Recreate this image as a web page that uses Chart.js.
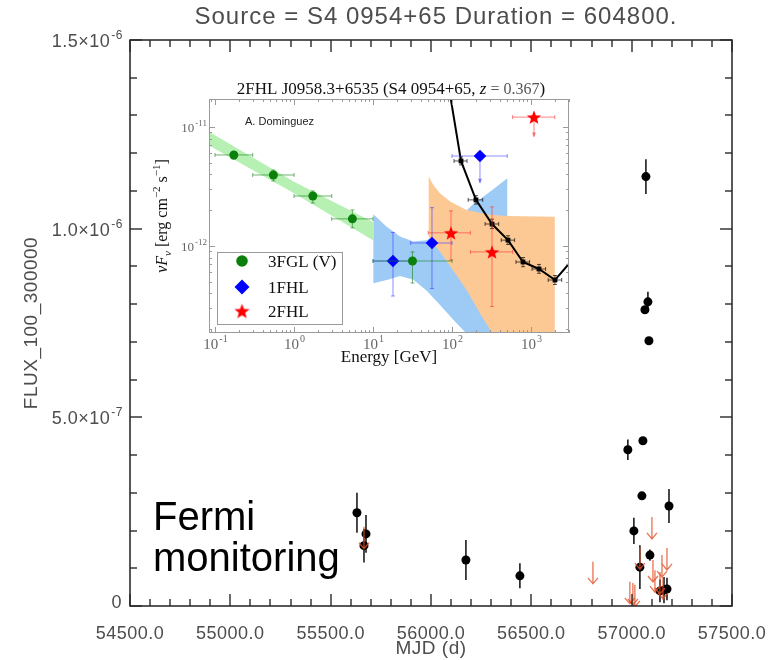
<!DOCTYPE html>
<html>
<head>
<meta charset="utf-8">
<script src="https://cdn.jsdelivr.net/npm/chart.js@4.4.2/dist/chart.umd.min.js"></script>
<style>
  body { margin: 0; background: #fff; }
  #wrap { position: relative; width: 769px; height: 660px; }
  #lc { position: absolute; left: 0; top: 0; }
  #sed { position: absolute; left: 150px; top: 70px; }
</style>
</head>
<body>
<div id="wrap">
  <canvas id="lc" width="769" height="660"></canvas>
  <canvas id="sed" width="430" height="305"></canvas>
</div>
<script>
// ---- light curve (main panel) ----
const mjd     = [55631, 55676, 55666, 56174, 56443, 56981, 57011, 57041, 57051, 57056, 57066, 57071, 57081, 57086, 57091, 57141, 57161, 57176, 57186];
const flux    = [2.47e-7, 1.91e-7, 1.60e-7, 1.22e-7, 0.80e-7, 4.14e-7, 1.99e-7, 1.03e-7, 2.92e-7, 4.38e-7, 7.85e-7, 11.38e-7, 8.06e-7, 7.03e-7, 1.35e-7, 0.40e-7, 0.42e-7, 0.45e-7, 2.65e-7];
const fluxErr = [0.53e-7, 0.50e-7, 0.45e-7, 0.53e-7, 0.33e-7, 0.27e-7, 0.35e-7, 0.58e-7, 0.08e-7, 0.08e-7, 0.08e-7, 0.46e-7, 0.27e-7, 0.08e-7, 0.15e-7, 0.30e-7, 0.35e-7, 0.30e-7, 0.45e-7];
const ulMjd   = [55666, 56807, 56991, 57006, 57016, 57041, 57101, 57106, 57116, 57141, 57151, 57156, 57176];
const ulFlux  = [2.10e-7, 1.17e-7, 0.64e-7, 0.61e-7, 0.56e-7, 1.56e-7, 2.36e-7, 1.22e-7, 0.95e-7, 0.90e-7, 1.35e-7, 0.77e-7, 1.54e-7];
const mjdTicks = [54500, 55000, 55500, 56000, 56500, 57000, 57500];
const mjdTickLabels = ['54500.0', '55000.0', '55500.0', '56000.0', '56500.0', '57000.0', '57500.0'];
const fluxTicks = [0, 5e-7, 1e-6, 1.5e-6];
const fluxTickLabels = [['0', ''], ['5.0×10', '-7'], ['1.0×10', '-6'], ['1.5×10', '-6']];

// ---- SED inset ----
const fglE   = [0.173, 0.548, 1.73, 5.48, 31.6];
const fglF   = [5.82e-12, 3.95e-12, 2.63e-12, 1.69e-12, 7.48e-13];
const fglElo = [0.1, 0.3, 1, 3, 10];
const fglEhi = [0.3, 1, 3, 10, 100];
const fglFlo = [5.37e-12, 3.52e-12, 2.30e-12, 1.42e-12, 4.89e-13];
const fglFhi = [6.16e-12, 4.35e-12, 2.90e-12, 2.01e-12, 8.92e-13];

const fhl1E   = [17.9, 55.8, 226];
const fhl1F   = [7.48e-13, 1.06e-12, 5.70e-12];
const fhl1Elo = [10, 30, 100];
const fhl1Ehi = [30, 100, 500];
const fhl1Flo = [3.8e-13, 4.4e-13, 3.4e-12];
const fhl1Fhi = [1.3e-12, 2.1e-12, 5.70e-12];
const fhl1UL  = [false, false, true];

const fhl2E   = [97, 321, 1091];
const fhl2F   = [1.29e-12, 8.92e-13, 1.21e-11];
const fhl2Elo = [50, 171, 585];
const fhl2Ehi = [171, 585, 2000];
const fhl2Flo = [7.6e-13, 3.1e-13, 8.3e-12];
const fhl2Fhi = [1.97e-12, 2.13e-12, 1.21e-11];
const fhl2UL  = [false, false, true];

const vheE   = [80, 130, 201, 321, 511, 792, 1262, 2013, 4170];
const vheF   = [3.66e-11, 5.18e-12, 2.44e-12, 1.53e-12, 1.12e-12, 7.34e-13, 6.41e-13, 5.18e-13, 9.08e-13];
const vheElo = [80, 106, 160, 262, 420, 645, 1030, 1650, 3400];
const vheEhi = [80, 155, 245, 390, 620, 960, 1530, 2450, 5000];
const vheFlo = [3.66e-11, 4.8e-12, 2.25e-12, 1.40e-12, 1.03e-12, 6.7e-13, 5.9e-13, 4.75e-13, 8.3e-13];
const vheFhi = [3.66e-11, 5.6e-12, 2.65e-12, 1.68e-12, 1.22e-12, 8.0e-13, 7.0e-13, 5.65e-13, 9.9e-13];

const fglBandE  = [0.084, 1, 10];
const fglBandHi = [9.1e-12, 3.46e-12, 1.59e-12];
const fglBandLo = [7.0e-12, 2.77e-12, 1.12e-12];

const fhl1BandE  = [10.1, 14.9, 22, 32.4, 47.8, 70.5, 104, 126, 186, 249, 333, 501];
const fhl1BandHi = [1.85e-12, 1.45e-12, 1.20e-12, 1.09e-12, 1.12e-12, 1.36e-12, 1.62e-12, 1.76e-12, 2.25e-12, 2.59e-12, 3.0e-12, 3.71e-12];
const fhl1BandLo = [4.86e-13, 5.18e-13, 5.6e-13, 5.2e-13, 4.2e-13, 3.2e-13, 2.4e-13, 2.1e-13, 1.6e-13, 1.3e-13, 1.0e-13, 0.7e-13];

const fhl2BandE  = [50.7, 58, 70.5, 94.5, 153, 226, 275, 333, 492, 2000];
const fhl2BandHi = [3.83e-12, 3.26e-12, 2.77e-12, 2.36e-12, 2.01e-12, 1.9e-12, 1.85e-12, 1.82e-12, 1.79e-12, 1.76e-12];
const fhl2BandLo = [1.2e-12, 1.05e-12, 8.95e-13, 6.8e-13, 4.27e-13, 2.72e-13, 2.2e-13, 1.8e-13, 1.2e-13, 0.2e-13];

const energyTicks = [0.1, 1, 10, 100, 1000];
const energyTickExp = ['-1', '0', '1', '2', '3'];
const sedTicks = [1e-11, 1e-12];
const sedTickExp = ['-11', '-12'];

const SANS = '"Liberation Sans", Arial, sans-serif';
const SERIF = '"Liberation Serif", "DejaVu Serif", serif';

const pts = (xs, ys) => xs.map((v, i) => ({ x: v, y: ys[i] }));
const band = (xs, hi, lo) => pts(xs, hi).concat(pts(xs, lo).reverse());

function drawPow(ctx, x, y, base, exp, size, family, align) {
  ctx.font = `${size}px ${family}`;
  const wb = ctx.measureText(base).width;
  const es = Math.round(size * 0.68);
  ctx.font = `${es}px ${family}`;
  const we = exp ? ctx.measureText(exp).width : 0;
  let x0 = x;
  if (align === 'right') x0 = x - wb - we;
  if (align === 'center') x0 = x - (wb + we) / 2;
  ctx.textAlign = 'left';
  ctx.font = `${size}px ${family}`;
  ctx.fillText(base, x0, y);
  if (exp) {
    ctx.font = `${es}px ${family}`;
    ctx.fillText(exp, x0 + wb + 1, y - size * 0.45);
  }
}

const lcDecor = {
  id: 'lcDecor',
  beforeDatasetDraw(chart, args) {
    if (args.index !== 0) return;
    const { ctx, chartArea: a, scales: { x, y } } = chart;
    ctx.save();
    ctx.beginPath();
    ctx.rect(a.left, a.top, a.right - a.left, a.bottom - a.top);
    ctx.clip();
    ctx.strokeStyle = '#1c1c1c';
    ctx.lineWidth = 1.6;
    ctx.beginPath();
    mjd.forEach((m, i) => {
      const px = x.getPixelForValue(m);
      ctx.moveTo(px, y.getPixelForValue(flux[i] - fluxErr[i]));
      ctx.lineTo(px, y.getPixelForValue(flux[i] + fluxErr[i]));
    });
    ctx.stroke();
    ctx.restore();
  },
  afterDatasetsDraw(chart) {
    const { ctx, chartArea: a, scales: { x, y } } = chart;
    ctx.save();
    ctx.beginPath();
    ctx.rect(a.left, a.top, a.right - a.left, a.bottom - a.top);
    ctx.clip();
    ctx.strokeStyle = 'rgba(228,80,36,0.8)';
    ctx.lineWidth = 1.3;
    ulMjd.forEach((m, i) => {
      const px = x.getPixelForValue(m);
      const top = y.getPixelForValue(ulFlux[i]);
      const tip = top + 22;
      ctx.beginPath();
      ctx.moveTo(px, top);
      ctx.lineTo(px, tip);
      ctx.moveTo(px - 5, tip - 6);
      ctx.lineTo(px, tip);
      ctx.lineTo(px + 5, tip - 6);
      ctx.stroke();
    });
    ctx.restore();
  },
  afterDraw(chart) {
    const { ctx, chartArea: a, scales: { x, y } } = chart;
    ctx.save();
    ctx.strokeStyle = '#222';
    ctx.lineWidth = 1.5;
    ctx.strokeRect(a.left, a.top, a.right - a.left, a.bottom - a.top);
    // tick marks, inward on all four sides
    ctx.fillStyle = '#2a2a2a';
    for (let m = mjdTicks[0]; m <= mjdTicks[mjdTicks.length - 1]; m += 100) {
      const px = Math.round(x.getPixelForValue(m));
      const len = (m - mjdTicks[0]) % 500 === 0 ? 12 : 7;
      ctx.fillRect(px - 0.7, a.bottom - len, 1.4, len);
      ctx.fillRect(px - 0.7, a.top, 1.4, len);
    }
    for (let k = 0; k <= 15; k++) {
      const py = Math.round(y.getPixelForValue(k * 1e-7));
      const len = k % 5 === 0 ? 12 : 7;
      ctx.fillRect(a.left, py - 0.7, len, 1.4);
      ctx.fillRect(a.right - len, py - 0.7, len, 1.4);
    }

    ctx.fillStyle = '#4d4d4d';
    ctx.textBaseline = 'alphabetic';
    ctx.letterSpacing = '0.5px';
    ctx.font = `18px ${SANS}`;
    ctx.textAlign = 'center';
    mjdTicks.forEach((m, i) => ctx.fillText(mjdTickLabels[i], x.getPixelForValue(m), 639));
    fluxTicks.forEach((v, i) => {
      const [b, e] = fluxTickLabels[i];
      drawPow(ctx, 122, y.getPixelForValue(v) + (v === 0 ? 2 : 7), b, e, 18, SANS, 'right');
    });
    ctx.font = `19px ${SANS}`;
    ctx.textAlign = 'center';
    ctx.fillText('MJD (d)', (a.left + a.right) / 2, 654);
    ctx.save();
    ctx.translate(37, (a.top + a.bottom) / 2);
    ctx.rotate(-Math.PI / 2);
    ctx.fillText('FLUX_100_300000', 0, 0);
    ctx.restore();
    ctx.letterSpacing = '1px';
    ctx.font = `24px ${SANS}`;
    ctx.textAlign = 'center';
    ctx.fillText('Source = S4 0954+65 Duration = 604800.', 436, 24);
    ctx.letterSpacing = '0px';

    ctx.fillStyle = '#000';
    ctx.textAlign = 'left';
    ctx.font = `40px ${SANS}`;
    ctx.fillText('Fermi', 153, 530);
    ctx.fillText('monitoring', 153, 571);
    ctx.restore();
  }
};

new Chart(document.getElementById('lc'), {
  type: 'scatter',
  data: {
    datasets: [{
      data: pts(mjd, flux),
      pointRadius: 4.5,
      pointBackgroundColor: '#000',
      pointBorderWidth: 0
    }]
  },
  options: {
    responsive: false,
    animation: false,
    events: [],
    layout: { padding: { left: 130, right: 37, top: 40, bottom: 54 } },
    plugins: { legend: { display: false }, tooltip: { enabled: false } },
    scales: {
      x: { type: 'linear', min: 54500, max: 57500, display: false },
      y: { type: 'linear', min: 0, max: 1.5e-6, display: false }
    }
  },
  plugins: [lcDecor]
});

// ---- inset chart ----
function starImage(size, color) {
  const c = document.createElement('canvas');
  c.width = c.height = size;
  const g = c.getContext('2d');
  const R = size / 2 - 0.5, r = R * 0.42, cx = size / 2, cy = size / 2 + R * 0.1;
  g.beginPath();
  for (let i = 0; i < 10; i++) {
    const ang = -Math.PI / 2 + i * Math.PI / 5;
    const rr = i % 2 ? r : R;
    g.lineTo(cx + rr * Math.cos(ang), cy + rr * Math.sin(ang));
  }
  g.closePath();
  g.fillStyle = color;
  g.fill();
  return c;
}
const star = starImage(16, '#ff0000');
const starLegend = starImage(17, '#ff0000');

const errorSets = {
  0: { e: fglE, f: fglF, elo: fglElo, ehi: fglEhi, flo: fglFlo, fhi: fglFhi, color: 'rgba(20,130,20,0.6)' },
  1: { e: fhl1E, f: fhl1F, elo: fhl1Elo, ehi: fhl1Ehi, flo: fhl1Flo, fhi: fhl1Fhi, ul: fhl1UL, color: 'rgba(50,50,255,0.55)' },
  2: { e: fhl2E, f: fhl2F, elo: fhl2Elo, ehi: fhl2Ehi, flo: fhl2Flo, fhi: fhl2Fhi, ul: fhl2UL, color: 'rgba(255,50,50,0.6)' },
  3: { e: vheE, f: vheF, elo: vheElo, ehi: vheEhi, flo: vheFlo, fhi: vheFhi, color: 'rgba(0,0,0,0.65)' }
};

const sedDecor = {
  id: 'sedDecor',
  beforeDatasetDraw(chart, args) {
    const s = errorSets[args.index];
    if (!s) return;
    const { ctx, chartArea: a, scales: { x, y } } = chart;
    ctx.save();
    ctx.beginPath();
    ctx.rect(a.left, a.top, a.right - a.left, a.bottom - a.top);
    ctx.clip();
    ctx.strokeStyle = s.color;
    ctx.fillStyle = s.color;
    ctx.lineWidth = 1;
    s.e.forEach((e, i) => {
      const px = x.getPixelForValue(e), py = y.getPixelForValue(s.f[i]);
      const x0 = x.getPixelForValue(s.elo[i]), x1 = x.getPixelForValue(s.ehi[i]);
      const y0 = y.getPixelForValue(s.flo[i]), y1 = y.getPixelForValue(s.fhi[i]);
      ctx.beginPath();
      ctx.moveTo(x0, py); ctx.lineTo(x1, py);
      ctx.moveTo(x0, py - 2); ctx.lineTo(x0, py + 2);
      ctx.moveTo(x1, py - 2); ctx.lineTo(x1, py + 2);
      ctx.moveTo(px, y0); ctx.lineTo(px, y1);
      if (!(s.ul && s.ul[i])) {
        ctx.moveTo(px - 2, y0); ctx.lineTo(px + 2, y0);
        ctx.moveTo(px - 2, y1); ctx.lineTo(px + 2, y1);
      }
      ctx.stroke();
      if (s.ul && s.ul[i]) {
        ctx.beginPath();
        ctx.moveTo(px - 2, y0 - 4); ctx.lineTo(px + 2, y0 - 4); ctx.lineTo(px, y0 + 1);
        ctx.closePath();
        ctx.fill();
      }
    });
    ctx.restore();
  },
  afterDraw(chart) {
    const { ctx, chartArea: a, scales: { x, y } } = chart;
    ctx.save();
    ctx.strokeStyle = '#9a9a9a';
    ctx.lineWidth = 1;
    ctx.strokeRect(a.left + 0.5, a.top + 0.5, a.right - a.left - 1, a.bottom - a.top - 1);
    ctx.fillStyle = '#9a9a9a';
    for (let d = -2; d <= 4; d++) {
      for (let k = 1; k <= 9; k++) {
        const v = k * Math.pow(10, d);
        if (v < x.min || v > x.max) continue;
        const px = Math.round(x.getPixelForValue(v));
        const len = k === 1 ? 6 : 3;
        ctx.fillRect(px, a.bottom - len, 1, len);
        ctx.fillRect(px, a.top, 1, len);
      }
    }
    for (let d = -14; d <= -10; d++) {
      for (let k = 1; k <= 9; k++) {
        const v = k * Math.pow(10, d);
        if (v < y.min || v > y.max) continue;
        const py = Math.round(y.getPixelForValue(v));
        const len = k === 1 ? 6 : 3;
        ctx.fillRect(a.left, py, len, 1);
        ctx.fillRect(a.right - len, py, len, 1);
      }
    }

    ctx.fillStyle = '#666';
    ctx.textBaseline = 'alphabetic';
    energyTicks.forEach((v, i) => drawPow(ctx, x.getPixelForValue(v), 279, '10', energyTickExp[i], 15, SERIF, 'center'));
    sedTicks.forEach((v, i) => drawPow(ctx, a.left - 3, y.getPixelForValue(v) + 5, '10', sedTickExp[i], 13, SERIF, 'right'));

    ctx.fillStyle = '#111';
    ctx.font = `17px ${SERIF}`;
    ctx.textAlign = 'center';
    ctx.fillText('Energy [GeV]', (a.left + a.right) / 2, 292);

    // y axis title
    ctx.textAlign = 'left';
    ctx.save();
    ctx.translate(17, (a.top + a.bottom) / 2);
    ctx.rotate(-Math.PI / 2);
    const parts = [
      ['ν', `italic 16px ${SERIF}`, 0], ['F', `italic 16px ${SERIF}`, 0], ['ν', `italic 11px ${SERIF}`, 4],
      [' [erg cm', `16px ${SERIF}`, 0], ['−2', `11px ${SERIF}`, -7], [' s', `16px ${SERIF}`, 0],
      ['−1', `11px ${SERIF}`, -7], [']', `16px ${SERIF}`, 0]
    ];
    let tw = 0;
    parts.forEach(p => { ctx.font = p[1]; tw += ctx.measureText(p[0]).width; });
    let cx = -tw / 2;
    parts.forEach(p => { ctx.font = p[1]; ctx.fillText(p[0], cx, p[2]); cx += ctx.measureText(p[0]).width; });
    ctx.restore();

    // title
    ctx.textAlign = 'left';
    const tparts = [
      ['2FHL J0958.3+6535 (S4 0954+65, ', `17px ${SERIF}`], ['z', `italic 17px ${SERIF}`],
      [' = 0.367', `16px ${SERIF}`], [')', `17px ${SERIF}`]
    ];
    let tw2 = 0;
    tparts.forEach(p => { ctx.font = p[1]; tw2 += ctx.measureText(p[0]).width; });
    let tx = (a.left + a.right) / 2 - tw2 / 2 + 2;
    tparts.forEach((p, i) => {
      ctx.font = p[1];
      ctx.fillStyle = i === 2 ? '#555' : '#111';
      ctx.fillText(p[0], tx, 24);
      tx += ctx.measureText(p[0]).width;
    });

    ctx.fillStyle = '#222';
    ctx.font = `11px ${SANS}`;
    ctx.fillText('A. Dominguez', 95, 55);

    // legend
    const lx = 67, ly = 182, lw = 125, lh = 72;
    ctx.fillStyle = '#fff';
    ctx.fillRect(lx, ly, lw, lh);
    ctx.strokeStyle = '#999';
    ctx.strokeRect(lx + 0.5, ly + 0.5, lw, lh);
    const mx = 92;
    ctx.fillStyle = '#0b800b';
    ctx.beginPath(); ctx.arc(mx, 191, 5.8, 0, Math.PI * 2); ctx.fill();
    ctx.fillStyle = '#0000ff';
    ctx.beginPath();
    ctx.moveTo(mx - 7.5, 217); ctx.lineTo(mx, 209.5); ctx.lineTo(mx + 7.5, 217); ctx.lineTo(mx, 224.5);
    ctx.closePath(); ctx.fill();
    ctx.drawImage(starLegend, mx - 8.5, 241 - 8.5);
    ctx.fillStyle = '#111';
    ctx.font = `17px ${SERIF}`;
    ctx.fillText('3FGL (V)', 118, 197);
    ctx.fillText('1FHL', 118, 223);
    ctx.fillText('2FHL', 118, 247);
    ctx.restore();
  }
};

new Chart(document.getElementById('sed'), {
  type: 'scatter',
  data: {
    datasets: [
      { data: pts(fglE, fglF), order: 0, pointRadius: 4.5, pointBackgroundColor: '#0b800b', pointBorderWidth: 0 },
      { data: pts(fhl1E, fhl1F), order: 0, pointStyle: 'rectRot', pointRadius: 6.3, pointBackgroundColor: '#0000ff', pointBorderWidth: 0 },
      { data: pts(fhl2E, fhl2F), order: 0, pointStyle: star, pointRadius: 8 },
      { data: pts(vheE, vheF), order: 1, showLine: true, borderColor: '#000', borderWidth: 2, tension: 0,
        pointStyle: 'rect', pointRadius: 3.4, pointBackgroundColor: '#000', pointBorderWidth: 0 },
      { data: band(fhl2BandE, fhl2BandHi, fhl2BandLo), order: 2, showLine: true, fill: 'shape',
        backgroundColor: '#fcc995', borderWidth: 0, pointRadius: 0 },
      { data: band(fhl1BandE, fhl1BandHi, fhl1BandLo), order: 3, showLine: true, fill: 'shape',
        backgroundColor: '#9ecbf6', borderWidth: 0, pointRadius: 0 },
      { data: band(fglBandE, fglBandHi, fglBandLo), order: 4, showLine: true, fill: 'shape',
        backgroundColor: '#b6f0b3', borderWidth: 0, pointRadius: 0 }
    ]
  },
  options: {
    responsive: false,
    animation: false,
    events: [],
    layout: { padding: { left: 59, right: 11, top: 29, bottom: 42 } },
    plugins: { legend: { display: false }, tooltip: { enabled: false } },
    scales: {
      x: { type: 'logarithmic', min: 0.0839, max: 3027, display: false },
      y: { type: 'logarithmic', min: 1.858e-13, max: 1.718e-11, display: false }
    }
  },
  plugins: [sedDecor]
});
</script>
</body>
</html>
